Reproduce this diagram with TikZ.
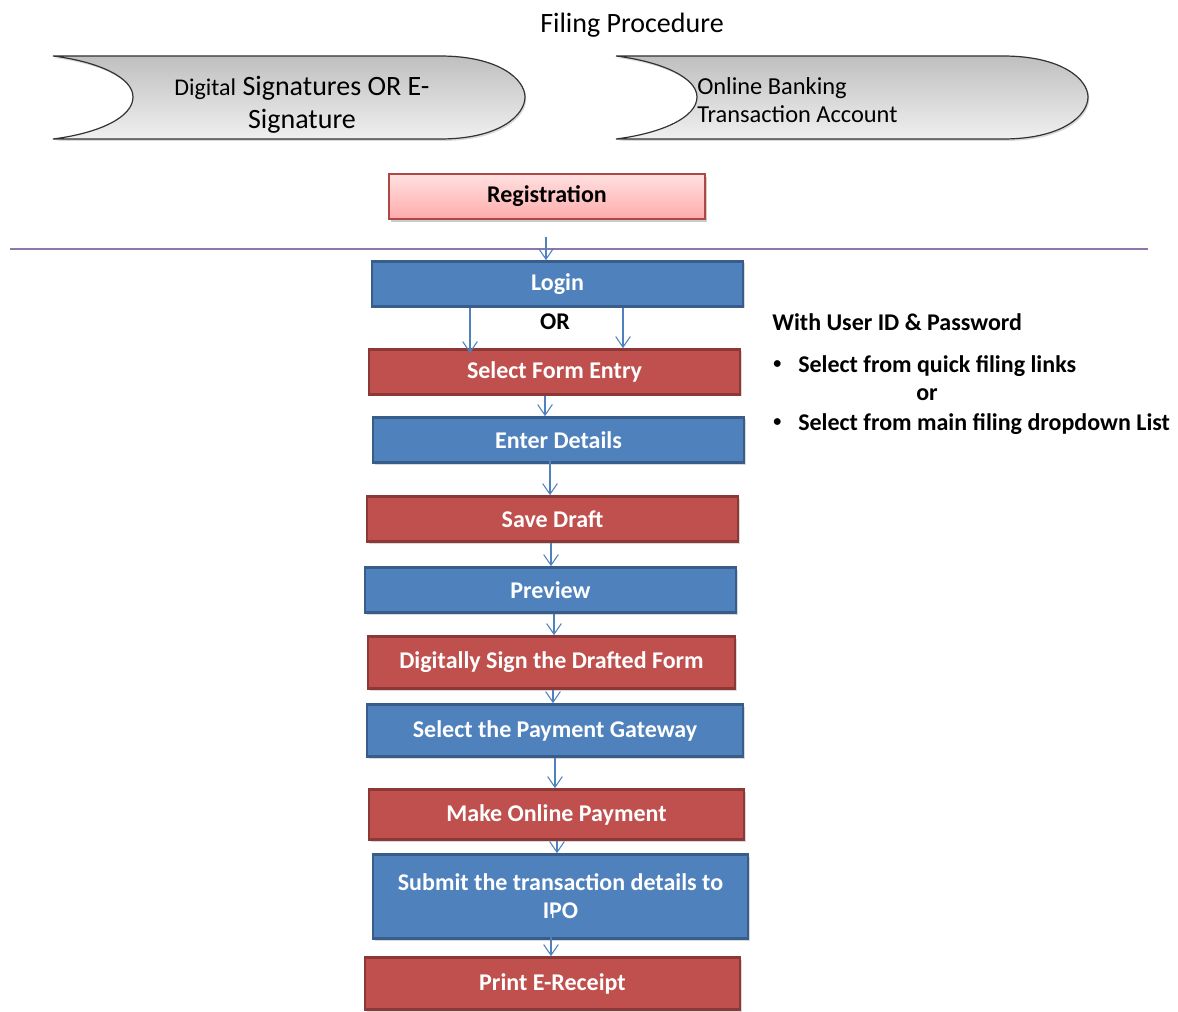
\documentclass[tikz,border=0pt]{standalone}
\usepackage{fontspec}
\setmainfont{Carlito}
\usetikzlibrary{arrows.meta,shadows}
\definecolor{bfill}{RGB}{79,129,189}
\definecolor{bline}{RGB}{56,93,138}
\definecolor{rfill}{RGB}{192,80,77}
\definecolor{rline}{RGB}{140,56,54}
\definecolor{arr}{RGB}{79,129,189}
\definecolor{sep}{RGB}{140,120,170}
\tikzset{
  box/.style={draw, line width=2pt, font=\fontsize{18}{21}\selectfont\bfseries, text=white, align=center, inner sep=0pt,
    drop shadow={shadow xshift=1.5pt, shadow yshift=-1.5pt, opacity=0.3}},
  bluebox/.style={box, fill=bfill, draw=bline},
  redbox/.style={box, fill=rfill, draw=rline},
  conn/.style={draw=arr, line width=0.8pt, -{Straight Barb[length=8pt,width=11pt]}},
  side/.style={anchor=west, font=\fontsize{18}{21}\selectfont\bfseries, inner sep=0pt},
  tab/.style={draw=black!80, line width=0.9pt, top color=black!25, bottom color=black!6,
    drop shadow={shadow xshift=1pt, shadow yshift=-1.5pt, opacity=0.3}}
}
\newcommand{\mkbox}[6]{% style, name, x1, y1, x2, y2
  \node[#1, minimum width={(#5-#3)*0.75pt}, minimum height={(#6-#4)*0.75pt}] (#2) at ({(#3+#5)/2},{(#4+#6)/2+1.5})}
\begin{document}
\begin{tikzpicture}[x=0.75pt,y=-0.75pt]
\useasboundingbox (0,0) rectangle (1178,1012);
% title
\node[font=\fontsize{21}{24}\selectfont, inner sep=0pt] (title) at (632,25) {Filing Procedure};
% tabs
\path[tab] (53,56) -- (440,56) .. controls (500,56) and (525,80) .. (525,97)
  .. controls (525,115) and (500,139) .. (440,139) -- (53,139)
  .. controls (100,133) and (133,117) .. (133,97) .. controls (133,78) and (100,62) .. (53,56) -- cycle;
\path[tab] (616,56) -- (1003,56) .. controls (1063,56) and (1088,80) .. (1088,97)
  .. controls (1088,115) and (1063,139) .. (1003,139) -- (616,139)
  .. controls (663,133) and (697,117) .. (697,97) .. controls (697,78) and (663,62) .. (616,56) -- cycle;
\node[align=center, inner sep=0pt, font=\fontsize{21}{24.75}\selectfont] (dsig) at (302,105)
  {{\fontsize{18}{21}\selectfont Digital} Signatures OR E-\\Signature};
\node[align=left, anchor=west, inner sep=0pt, font=\fontsize{18.3}{21}\selectfont] (obank) at (697,100)
  {Online Banking\\Transaction Account};
% registration
\node[draw=rfill!90!black, line width=1pt, top color=red!12, bottom color=red!33,
  minimum width={316*0.75pt}, minimum height={45*0.75pt}, inner sep=0pt,
  font=\fontsize{18}{21}\selectfont\bfseries,
  drop shadow={shadow xshift=1.5pt, shadow yshift=-2pt, opacity=0.4}] (reg) at (547,196.5) {Registration};
% separator
\coordinate (sl) at (10,249);
\coordinate (sr) at (1148,249);
\draw[sep, line width=0.8pt] (sl) -- (sr);
% flow boxes
\mkbox{bluebox}{login}{372}{260}{743}{305}{Login};
\mkbox{redbox}{form}{369}{348}{740}{393}{Select Form Entry};
\mkbox{bluebox}{enter}{373}{416}{744}{461}{Enter Details};
\mkbox{redbox}{save}{367}{495}{738}{540}{Save Draft};
\mkbox{bluebox}{prev}{365}{566}{736}{611}{Preview};
\mkbox{redbox}{sign}{368}{635}{735}{687}{Digitally Sign the Drafted Form};
\mkbox{bluebox}{gate}{367}{703}{743}{755}{Select the Payment Gateway};
\mkbox{redbox}{pay}{369}{788}{744}{838}{Make Online Payment};
\mkbox{bluebox}{sub}{373}{853}{748}{937}{Submit the transaction details to\\IPO};
\mkbox{redbox}{print}{365}{956}{740}{1008}{Print E-Receipt};
\node[font=\fontsize{18}{21}\selectfont\bfseries, inner sep=0pt] (or) at (555,322) {OR};
% connectors
\coordinate (r0) at (546,237);
\draw[conn] (r0) -- (r0 |- login.north);
\draw[conn] (login.south -| 470,0) -- ([yshift=-5*0.75pt]form.north -| 470,0);
\draw[conn] (login.south -| 623,0) -- (form.north -| 623,0);
\draw[conn] (form.south -| 545,0) -- (enter.north -| 545,0);
\draw[conn] ([yshift=6*0.75pt]enter.south -| 550,0) -- (save.north -| 550,0);
\draw[conn] (save.south -| 551,0) -- (prev.north -| 551,0);
\draw[conn] (prev.south -| 554,0) -- (sign.north -| 554,0);
\draw[conn] (sign.south -| 553,0) -- (gate.north -| 553,0);
\draw[conn] (gate.south -| 555,0) -- (pay.north -| 555,0);
\draw[conn] (pay.south -| 557,0) -- (sub.north -| 557,0);
\draw[conn] ([yshift=26*0.75pt]sub.south -| 551,0) -- (print.north -| 551,0);
% side notes
\node[side] (uid) at (772,322) {With User ID \& Password};
\node[side, font=\fontsize{12}{14}\selectfont\bfseries] (b1) at (773,365) {•};
\node[side] (s1) at (798,366) {Select from quick filing links};
\node[side] (or2) at (916,395) {or};
\node[side, font=\fontsize{12}{14}\selectfont\bfseries] (b2) at (773,423) {•};
\node[side] (s2) at (798,424) {Select from main filing dropdown List};
\end{tikzpicture}
\end{document}
